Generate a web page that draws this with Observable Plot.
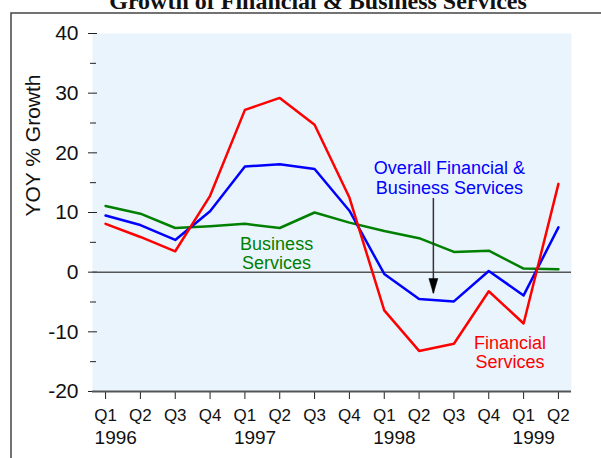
<!DOCTYPE html>
<html><head><meta charset="utf-8">
<script src="https://cdn.jsdelivr.net/npm/d3@7"></script>
<script src="https://cdn.jsdelivr.net/npm/@observablehq/plot@0.6"></script>
<style>body{margin:0;background:#fff;}</style>
</head><body><div id="chart"></div>
<script>
const title = "Growth of Financial & Business Services";
const yTitle = "YOY % Growth";
const quarters = ["Q1","Q2","Q3","Q4","Q1","Q2","Q3","Q4","Q1","Q2","Q3","Q4","Q1","Q2"];
const years = ["1996","1997","1998","1999"];
const yearStart = [0, 4, 8, 12];
const yTicks = [40, 30, 20, 10, 0, -10, -20];
const yMinor = [35, 25, 15, 5, -5, -15];
const financial = [8.1, 5.9, 3.5, 12.8, 27.2, 29.2, 24.7, 12.5, -6.4, -13.2, -12.0, -3.2, -8.6, 14.8];
const overall   = [9.5, 7.9, 5.4, 10.2, 17.7, 18.1, 17.3, 10.3, -0.3, -4.5, -4.9, 0.2, -3.9, 7.5];
const business  = [11.1, 9.8, 7.4, 7.7, 8.1, 7.4, 10.0, 8.3, 6.9, 5.7, 3.4, 3.6, 0.6, 0.5];
const overallLabel = [{text: "Overall Financial &\nBusiness Services", x: 9.87, y: 15.8}];
const businessLabel = [{text: "Business\nServices", x: 4.91, y: 3.2}];
const financialLabel = [{text: "Financial\nServices", x: 11.61, y: -13.5}];
const arrow = [{x: 9.41, y1: 12.35, y2: -3.57}];

const idx = d3.range(quarters.length);
const rows = s => idx.map(i => ({i, v: s[i]}));
const yearRows = years.map((y, k) => ({year: y, i: yearStart[k]}));

const headSymbol = {
  draw(ctx) {
    ctx.moveTo(-4.5, -15);
    ctx.lineTo(4.5, -15);
    ctx.lineTo(0, 0);
    ctx.closePath();
  }
};

const plot = Plot.plot({
  width: 601, height: 458,
  marginLeft: 92, marginRight: 30, marginTop: 33, marginBottom: 67,
  style: {fontFamily: "'Liberation Sans', Arial, sans-serif", background: "white", color: "#111"},
  x: {domain: [-0.375, 13.375], axis: null},
  y: {domain: [-20, 40], axis: null},
  marks: [
    Plot.frame({fill: "#EAF4FD", stroke: null}),
    Plot.axisY({ticks: yTicks, tickSize: 9, dx: 5, tickPadding: 10, fontSize: 21, tickFormat: d => String(d), label: null, stroke: "#222"}),
    Plot.axisY({ticks: yMinor, tickSize: 6, dx: 4, tickFormat: () => "", label: null, stroke: "#222"}),
    Plot.axisX({ticks: idx, tickSize: 8, tickFormat: () => "", label: null, stroke: "#222"}),
    Plot.ruleY([0], {stroke: "#555", strokeWidth: 1.5}),
    Plot.ruleY([-20], {stroke: "#555", strokeWidth: 2}),
    Plot.text(idx, {x: d => d, text: d => quarters[d], frameAnchor: "bottom", dy: 29, fontSize: 17}),
    Plot.text(yearRows, {x: "i", text: "year", frameAnchor: "bottom", dy: 52, dx: -11, textAnchor: "start", fontSize: 19}),
    Plot.text([yTitle], {frameAnchor: "left", rotate: -90, dx: -59, dy: 4, fontSize: 21}),
    Plot.text([title], {frameAnchor: "top", dx: -14, dy: -42, lineAnchor: "top", fontSize: 24, fontWeight: "bold", fontFamily: "'Liberation Serif', 'Times New Roman', serif"}),
    Plot.line(rows(business), {x: "i", y: "v", stroke: "#008000", strokeWidth: 2.5}),
    Plot.line(rows(overall), {x: "i", y: "v", stroke: "#0000FF", strokeWidth: 2.5}),
    Plot.line(rows(financial), {x: "i", y: "v", stroke: "#FF0000", strokeWidth: 2.5}),
    Plot.text(overallLabel, {x: "x", y: "y", text: "text", fill: "#0000FF", fontSize: 18, lineHeight: 1.06}),
    Plot.text(businessLabel, {x: "x", y: "y", text: "text", fill: "#008000", fontSize: 18, lineHeight: 1.06}),
    Plot.text(financialLabel, {x: "x", y: "y", text: "text", fill: "#FF0000", fontSize: 18, lineHeight: 1.06}),
    Plot.ruleX(arrow, {x: "x", y1: "y1", y2: "y2", stroke: "#333", strokeWidth: 1.5}),
    Plot.dot(arrow, {x: "x", y: "y2", symbol: headSymbol, fill: "#000", stroke: "#000", strokeWidth: 0.5})
  ]
});

d3.select(plot).append("rect")
  .attr("x", 11).attr("y", 13).attr("width", 700).attr("height", 600)
  .attr("fill", "none").attr("stroke", "#444").attr("stroke-width", 1.5);

document.getElementById("chart").appendChild(plot);
</script>
</body></html>
